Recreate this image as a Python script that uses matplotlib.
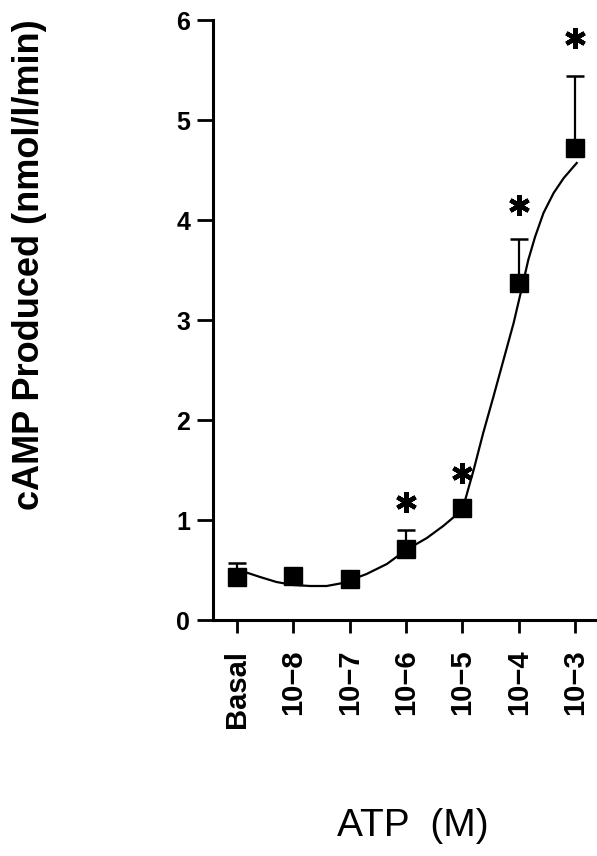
import matplotlib
matplotlib.use("Agg")
import matplotlib.pyplot as plt

plt.rcParams['font.family'] = ['Liberation Sans', 'DejaVu Sans']

# ---- data ----
categories = ["Basal", "10\u22128", "10\u22127", "10\u22126", "10\u22125", "10\u22124", "10\u22123"]
camp_mean = [0.43, 0.44, 0.41, 0.71, 1.12, 3.37, 4.72]
camp_err = [0.14, 0.0, 0.0, 0.19, 0.03, 0.44, 0.72]
sig_index = [3, 4, 5, 6]
sig_y = [1.18, 1.47, 4.15, 5.82]
# fitted curve (category position, value)
curve_x = [0.14, 0.41, 0.70, 1.00, 1.30, 1.59, 1.88, 2.30, 2.66, 3.00, 3.37, 3.66,
           3.85, 3.95, 4.05, 4.20, 4.37, 4.55, 4.73, 4.91, 5.06, 5.17, 5.29, 5.44,
           5.62, 5.80, 6.03]
curve_y = [0.48, 0.43, 0.38, 0.35, 0.34, 0.34, 0.37, 0.46, 0.56, 0.70, 0.82, 0.94,
           1.03, 1.10, 1.20, 1.50, 1.87, 2.23, 2.60, 2.97, 3.33, 3.60, 3.83, 4.07,
           4.27, 4.42, 4.57]
yticks = [0, 1, 2, 3, 4, 5, 6]

W, H = 597, 856
fig = plt.figure(figsize=(W / 100, H / 100), dpi=100)
ax = fig.add_axes([213 / W, 1 - 620 / H, 1 - 213 / W, 600 / H])

x = list(range(len(categories)))
ax.plot(curve_x, curve_y, color='black', lw=1.6, zorder=2, solid_joinstyle='round')
ax.errorbar(x, camp_mean, yerr=[[0] * len(camp_err), camp_err], fmt='none',
            ecolor='black', elinewidth=1.6, capsize=6.5, capthick=1.8, zorder=3)
ax.plot(x, camp_mean, linestyle='none', marker='s', markersize=13,
        color='black', zorder=4)
ax.plot(sig_index, sig_y, linestyle='none', marker=(6, 2, 0), markersize=15,
        markeredgewidth=3.2, color='black', zorder=5)

ax.set_xlim(-0.426, 6.39)
ax.set_ylim(0, 6)
ax.set_yticks(yticks)
ax.set_yticklabels([str(v) for v in yticks], fontsize=18, fontweight='bold')
ax.set_xticks(x)
ax.set_xticklabels(categories, rotation=90, fontsize=21, fontweight='bold')

for s in ['top', 'right']:
    ax.spines[s].set_visible(False)
for s in ['left', 'bottom']:
    ax.spines[s].set_linewidth(2.2)
ax.tick_params(axis='y', length=11.5, width=2.0, pad=5)
ax.tick_params(axis='x', length=9.4, width=2.0, pad=12)

fig.text(30 / W, 1 - 265 / H, "cAMP Produced (nmol/l/min)", rotation=90,
         ha='center', va='center', fontsize=26, fontweight='bold')
fig.text(413 / W, 1 - 826 / H, "ATP  (M)", ha='center', va='center', fontsize=28)

fig.savefig("out.png", dpi=100)
